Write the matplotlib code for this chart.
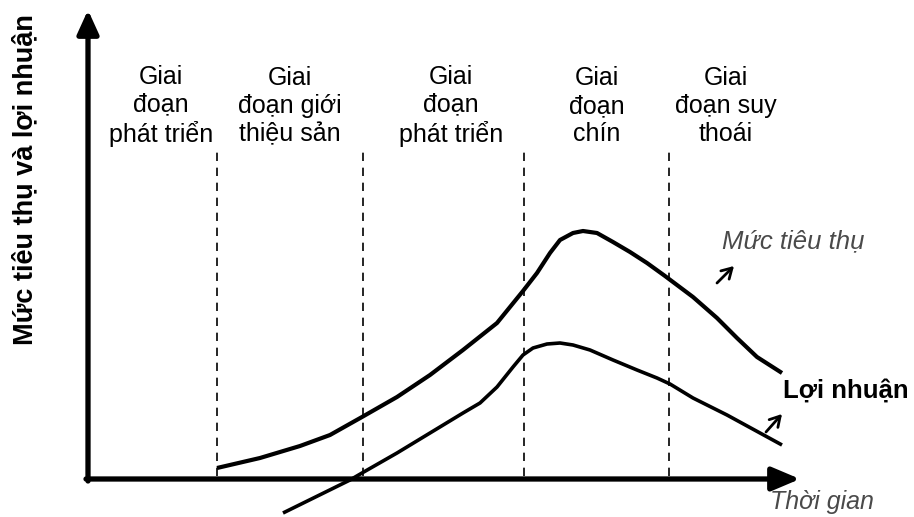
import numpy as np
import matplotlib
matplotlib.use("Agg")
from matplotlib import pyplot as plt

plt.rcParams['font.family'] = ['Liberation Sans', 'DejaVu Sans']

# stage boundaries (time units) and stage captions
stage_bounds = [12.9, 27.5, 43.6, 58.1]
stage_centers = [7.3, 20.2, 36.3, 50.9, 63.8]
stage_labels = ["Giai\nđoạn\nphát triển",
                "Giai\nđoạn giới\nthiệu sản",
                "Giai\nđoạn\nphát triển",
                "Giai\nđoạn\nchín",
                "Giai\nđoạn suy\nthoái"]

# sales curve
sales_t = [12.9, 17.2, 21.2, 24.2, 27.4, 30.9, 34.2, 37.5, 40.9, 43.5, 44.9, 46.2,
           47.2, 48.5, 49.5, 50.9, 52.5, 54.2, 55.9, 57.7, 60.5, 62.9, 64.9, 66.9, 69.4]
sales_v = [1.1, 2.1, 3.3, 4.4, 6.2, 8.2, 10.4, 12.9, 15.6, 18.8, 20.6, 22.6,
           23.9, 24.6, 24.8, 24.6, 23.7, 22.7, 21.6, 20.3, 18.2, 16.1, 14.1, 12.2, 10.6]

# profit curve
profit_t = [19.5, 26.2, 27.4, 30.9, 34.2, 37.5, 39.2, 40.9, 42.5, 43.5, 44.5, 45.9,
            47.2, 48.5, 50.2, 52.5, 54.9, 56.9, 58.2, 60.5, 63.9, 67.2, 69.4]
profit_v = [-3.4, -0.1, 0.6, 2.6, 4.6, 6.6, 7.6, 9.2, 11.2, 12.4, 13.1, 13.5,
            13.6, 13.4, 12.9, 11.9, 10.9, 10.1, 9.5, 8.1, 6.4, 4.6, 3.4]

fig = plt.figure(figsize=(9.14, 5.17), dpi=100)
ax = fig.add_axes([0, 0, 1, 1])
ax.set_xlim(-8.8, 82.6)
ax.set_ylim(-3.8, 47.9)
ax.axis('off')

# axes arrows
ax.annotate("", xy=(0, 46.9), xytext=(0, -0.2),
            arrowprops=dict(arrowstyle="-|>,head_length=1.1,head_width=0.5",
                            lw=3.8, color="black", mutation_scale=13,
                            shrinkA=0, shrinkB=0))
ax.annotate("", xy=(71.2, 0), xytext=(-0.2, 0),
            arrowprops=dict(arrowstyle="-|>,head_length=1.3,head_width=0.55",
                            lw=3.8, color="black", mutation_scale=13,
                            shrinkA=0, shrinkB=0))

# stage separators
ax.vlines(stage_bounds, 0.3, 33.2, colors="black", linestyles=(0, (5, 4)), lw=1.2)

for xc, lab in zip(stage_centers, stage_labels):
    ax.text(xc, 37.3, lab, ha="center", va="center", fontsize=18, linespacing=1.22)

ax.plot(sales_t, sales_v, color="black", lw=3, solid_capstyle="butt",
        solid_joinstyle="round")
ax.plot(profit_t, profit_v, color="black", lw=2.6, solid_capstyle="butt",
        solid_joinstyle="round")

ax.text(-6.3, 29.9, "Mức tiêu thụ và lợi nhuận", rotation=90, ha="center", va="center",
        fontsize=19.5, fontweight="bold")
ax.text(70.5, 23.8, "Mức tiêu thụ", ha="center", va="center", fontsize=18.5,
        style="italic", color="#4a4a4a")
ax.text(75.8, 8.8, "Lợi nhuận", ha="center", va="center", fontsize=18.5, fontweight="bold")
ax.text(73.4, -2.3, "Thời gian", ha="center", va="center", fontsize=18,
        style="italic", color="#4a4a4a")

# little pointer arrows
for start, end in [((62.9, 19.6), (64.6, 21.3)), ((67.8, 4.7), (69.4, 6.5))]:
    ax.annotate("", xy=end, xytext=start,
                arrowprops=dict(arrowstyle="->,head_length=0.6,head_width=0.35",
                                lw=2, color="black", mutation_scale=12,
                                shrinkA=0, shrinkB=0))

fig.savefig("out.png", dpi=100)
